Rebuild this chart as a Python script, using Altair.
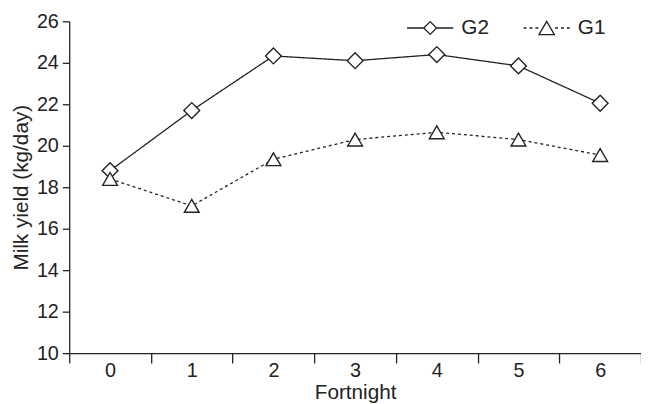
import altair as alt
import pandas as pd

# ---- data ----
fortnight = [0, 1, 2, 3, 4, 5, 6]
g2 = [18.8, 21.7, 24.33, 24.1, 24.4, 23.85, 22.05]
g1 = [18.4, 17.1, 19.35, 20.3, 20.65, 20.3, 19.55]
series = ["G2", "G1"]
y_ticks = [10, 12, 14, 16, 18, 20, 22, 24, 26]

rows = []
for f, a, b in zip(fortnight, g2, g1):
    rows.append({"Fortnight": f, "group": "G2", "yield": a})
    rows.append({"Fortnight": f, "group": "G1", "yield": b})
df = pd.DataFrame(rows)

FONT = "Liberation Sans"
INK = "#222222"

# legend symbols: line + marker as custom SVG paths (unit = symbol radius)
def seg(a, b):
    return f"M{a:.2f},0L{b:.2f},0"

p_g2 = seg(-3.6, -1.0) + "M-1,0L0,-1L1,0L0,1Z" + seg(1.0, 3.6)
dots = []
for a in (-3.6, -2.68, -1.76):
    dots.append(seg(a, a + 0.46))
for a in (1.3, 2.22, 3.14):
    dots.append(seg(a, a + 0.46))
p_g1 = "".join(dots) + "M0,-1.04L1.2,1.04L-1.2,1.04Z"

x_enc = alt.X(
    "Fortnight:O",
    scale=alt.Scale(type="band", paddingInner=0, paddingOuter=0),
    axis=alt.Axis(
        title="Fortnight", labelAngle=0, tickBand="extent", tickSize=10,
        labelPadding=-2, titlePadding=1,
    ),
)
y_enc = alt.Y(
    "yield:Q",
    scale=alt.Scale(domain=[10, 26], nice=False, zero=False),
    axis=alt.Axis(values=y_ticks, title="Milk yield (kg/day)", tickSize=7,
                  labelPadding=4, titlePadding=5),
)

base = alt.Chart(df)

lines = base.mark_line(strokeWidth=1.3, color=INK).encode(
    x=x_enc, y=y_enc,
    strokeDash=alt.StrokeDash("group:N", scale=alt.Scale(domain=series, range=[[1, 0], [3, 3]]), legend=None),
)

points = base.mark_point(filled=True, fill="white", stroke=INK, strokeWidth=1.4, opacity=1).encode(
    x=x_enc, y=y_enc,
    shape=alt.Shape("group:N", scale=alt.Scale(domain=series, range=["diamond", "triangle-up"]), legend=None),
    size=alt.Size("group:N", scale=alt.Scale(domain=series, range=[256, 225]), legend=None),
)

legend_layer = base.transform_filter("false").mark_point(
    filled=False, color=INK, strokeWidth=1.3
).encode(
    x=x_enc, y=y_enc,
    shape=alt.Shape(
        "group:N",
        scale=alt.Scale(domain=series, range=[p_g2, p_g1]),
        legend=alt.Legend(
            title=None, orient="none", legendX=355, legendY=-4, direction="horizontal",
            symbolSize=169, symbolOpacity=1, symbolFillColor="white",
            symbolStrokeColor=INK, symbolStrokeWidth=1.3, labelFontSize=21,
            labelFont=FONT, labelColor=INK, columnPadding=31, labelOffset=21, padding=0,
        ),
    ),
)

chart = (
    alt.layer(lines, points, legend_layer)
    .resolve_scale(shape="independent", size="independent")
    .resolve_legend(shape="independent")
    .properties(
        width=579, height=336,
        autosize=alt.AutoSizeParams(type="none"),
        padding={"left": 62, "top": 11, "right": 0, "bottom": 49},
    )
    .configure_view(stroke=None)
    .configure_axis(
        domainColor=INK, domainWidth=1.3, tickColor=INK, tickWidth=1.3,
        labelFont=FONT, titleFont=FONT, labelFontSize=20, titleFontSize=21,
        labelColor=INK, titleColor=INK, titleFontWeight="normal", grid=False,
    )
)

chart.save("out.html", embed_options={"renderer": "svg", "actions": False})
